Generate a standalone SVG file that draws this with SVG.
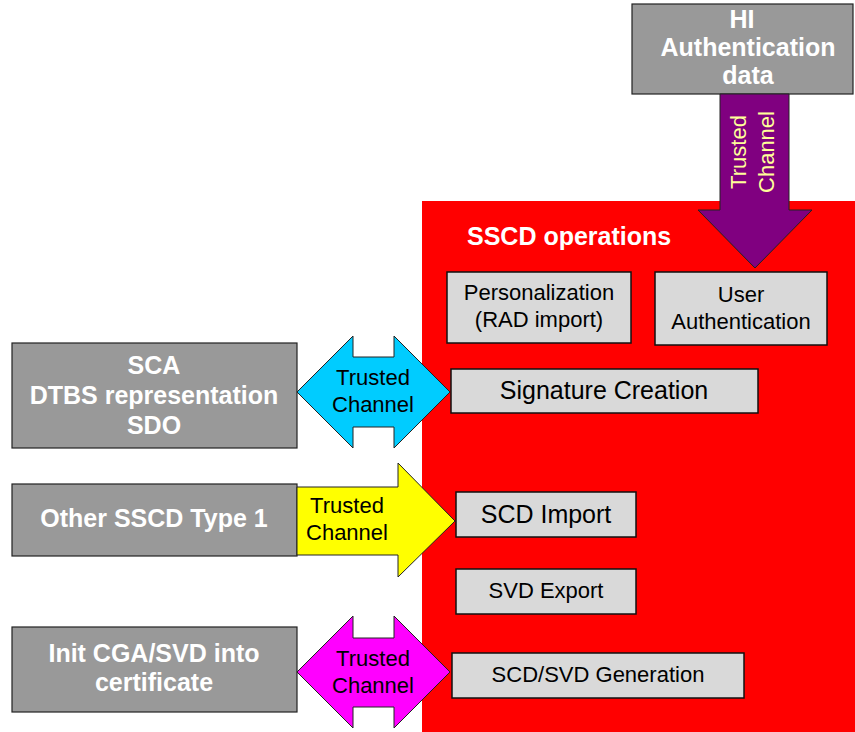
<svg xmlns="http://www.w3.org/2000/svg" width="855" height="732" viewBox="0 0 855 732">
<style>
.ext{fill:#999999;stroke:#222;stroke-width:1.2}
.op{fill:#D9D9D9;stroke:#111;stroke-width:1.5}
.wt{font-family:"Liberation Sans",Arial,sans-serif;font-weight:bold;font-size:25px;fill:#FFFFFF;text-anchor:middle}
.bt{font-family:"Liberation Sans",Arial,sans-serif;font-size:22px;fill:#000;text-anchor:middle}
.big{font-size:25px}
.arr{stroke:#222;stroke-width:1}
</style>
<rect width="855" height="732" fill="#FFFFFF"/>
<g id="sscd">
<rect x="422" y="201" width="433" height="531" fill="#FF0000"/>
<text x="467" y="245" font-family="'Liberation Sans',Arial,sans-serif" font-weight="bold" font-size="25" fill="#FFFFFF">SSCD operations</text>
</g>
<g id="hi">
<rect class="ext" x="632" y="4" width="221" height="90"/>
<text class="wt" x="742" y="28">HI</text>
<text class="wt" x="748" y="56">Authentication</text>
<text class="wt" x="748" y="84">data</text>
</g>
<g id="sca">
<rect class="ext" x="12" y="343" width="285" height="105"/>
<text class="wt" x="154" y="374">SCA</text>
<text class="wt" x="154" y="404">DTBS representation</text>
<text class="wt" x="154" y="434">SDO</text>
</g>
<g id="other">
<rect class="ext" x="12" y="484" width="285" height="72"/>
<text class="wt" x="154" y="527">Other SSCD Type 1</text>
</g>
<g id="init">
<rect class="ext" x="12" y="627" width="285" height="85"/>
<text class="wt" x="154" y="662">Init CGA/SVD into</text>
<text class="wt" x="154" y="691">certificate</text>
</g>
<g id="personalization">
<rect class="op" x="447" y="272" width="184" height="71"/>
<text class="bt" x="539" y="300">Personalization</text>
<text class="bt" x="539" y="327">(RAD import)</text>
</g>
<g id="userauth">
<rect class="op" x="655" y="272" width="172" height="73"/>
<text class="bt" x="741" y="302">User</text>
<text class="bt" x="741" y="329">Authentication</text>
</g>
<g id="sigcreation">
<rect class="op" x="451" y="369" width="307" height="44"/>
<text class="bt big" x="604" y="399">Signature Creation</text>
</g>
<g id="scdimport">
<rect class="op" x="456" y="492" width="180" height="45"/>
<text class="bt big" x="546" y="523">SCD Import</text>
</g>
<g id="svdexport">
<rect class="op" x="456" y="569" width="180" height="45"/>
<text class="bt" x="546" y="598">SVD Export</text>
</g>
<g id="generation">
<rect class="op" x="452" y="653" width="292" height="45"/>
<text class="bt" x="598" y="682">SCD/SVD Generation</text>
</g>
<g id="connectors">
<g id="tc-hi">
<polygon class="arr" fill="#800080" points="720,94 789,94 789,210 812,210 755,268 698,210 720,210"/>
<g font-family="'Liberation Sans',Arial,sans-serif" font-size="22" fill="#FFFF99" text-anchor="middle">
<text transform="translate(746,152) rotate(-90)">Trusted</text>
<text transform="translate(774,152) rotate(-90)">Channel</text>
</g>
</g>
<g id="tc-sca">
<polygon class="arr" fill="#00CCFF" points="297,392 353,336 353,357 394,357 394,336 450,392 394,448 394,427 353,427 353,448"/>
<text class="bt" x="373" y="385">Trusted</text>
<text class="bt" x="373" y="412">Channel</text>
</g>
<g id="tc-other">
<polygon class="arr" fill="#FFFF00" points="297,487 398,487 398,463 455,521 398,577 398,555 297,555"/>
<text class="bt" x="347" y="513">Trusted</text>
<text class="bt" x="347" y="540">Channel</text>
</g>
<g id="tc-init">
<polygon class="arr" fill="#FF00FF" points="297,672 353,616 353,638 394,638 394,616 450,672 394,728 394,707 353,707 353,728"/>
<text class="bt" x="373" y="666">Trusted</text>
<text class="bt" x="373" y="693">Channel</text>
</g>
</g>
</svg>
